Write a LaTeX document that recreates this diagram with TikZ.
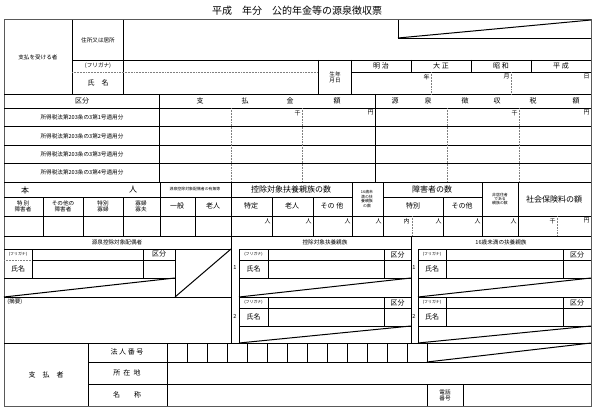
\documentclass[tikz,border=0pt]{standalone}
\usepackage{fontspec}
\setmainfont{Noto Sans CJK JP}
\begin{document}
\begin{tikzpicture}[x=1pt, y=-1pt, line width=.55pt,
  lbl/.style={inner sep=0pt, font=\fontsize{7}{7.5}\selectfont},
  big/.style={inner sep=0pt, font=\fontsize{8}{8.5}\selectfont},
  sml/.style={inner sep=0pt, align=center, font=\fontsize{5.6}{6}\selectfont},
  tiny/.style={inner sep=0pt, align=center, font=\fontsize{3.9}{4.4}\selectfont},
  unit/.style={inner sep=0pt, anchor=north east, font=\fontsize{6}{6.5}\selectfont},
  dot/.style={densely dotted, gray},
  heavy/.style={line width=1pt}]
\useasboundingbox (0,0) rectangle (600,412);
\node[inner sep=0pt, font=\fontsize{10}{11}\selectfont] (title) at (297,11) {平成\quad 年分\quad 公的年金等の源泉徴収票};
\draw[heavy, gray!70!black] (4,20) rectangle (591,406);
\draw (398,20) -- (398,38) -- (591,38);
\draw[heavy] (398,38) -- (591,20);
% recipient
\draw (72,20) -- (72,94); \draw (123,20) -- (123,94);
\draw (72,60) -- (591,60); \draw[dot] (72,72) -- (318,72); \draw (351,72) -- (591,72);
\draw (4,94) -- (591,94);
\draw (318,60) -- (318,94); \draw (351,60) -- (351,94);
\foreach \x in {411,471,531} \draw (\x,60) -- (\x,72);
\foreach \x in {431,511} \draw[dot] (\x,72) -- (\x,94);
\node[sml] (recv) at (38,57) {支払を受ける者};
\node[sml] (addr) at (98,40) {住所又は居所};
\node[sml] (kana) at (98,66) {(フリガナ)};
\node[lbl] (name) at (98,83) {氏\quad 名};
\node[sml] (birth) at (335,77) {生年\\月日};
\foreach \era/\x in {明\ 治/381, 大\ 正/441, 昭\ 和/501, 平\ 成/561}
  \node[lbl] (era\x) at (\x,66) {\era};
\foreach \u/\x in {年/430, 月/510, 日/590} \node[unit] (bd\x) at (\x,74) {\u};
% amounts
\foreach \y in {108,126,145,163,182} \draw (4,\y) -- (591,\y);
\draw (159,94) -- (159,182); \draw (375,94) -- (375,182);
\foreach \x in {231,302,447,519} \draw[dot] (\x,108) -- (\x,182);
\node[lbl] (kubun) at (82,101) {区分};
\foreach \c/\x in {支/200, 払/245, 金/290, 額/337, 源/395, 泉/428, 徴/465, 収/497, 税/533, 額/576}
  \node[lbl] (hd\x) at (\x,101) {\c};
\foreach \n/\y in {1/117, 2/136, 3/154, 4/172}
  \node[sml] (law\n) at (82,\y) {所得税法第203条の3第\n 号適用分};
\foreach \u/\x in {千/301, 円/374, 千/518, 円/590} \node[unit] (am\x) at (\x,110) {\u};
% family counts
\draw (4,197) -- (352,197); \draw (383,197) -- (482,197);
\draw (4,216) -- (591,216); \draw (4,236) -- (591,236);
\foreach \x in {160,231,352,383,482,518} \draw (\x,182) -- (\x,236);
\foreach \x in {43,83,123,195,272,313,443} \draw (\x,197) -- (\x,236);
\foreach \x in {412,557} \draw[dot] (\x,216) -- (\x,236);
\node[big] (self1) at (25,190) {本};
\node[big] (self2) at (133,190) {人};
\node[tiny] (spouseq) at (195,189) {源泉控除対象配偶者の有無等};
\foreach \t/\x in {特\ 別\\障害者/23, その他の\\障害者/63, 特別\\寡婦/103, 寡婦\\寡夫/141}
  \node[sml] (self\x) at (\x,206) {\t};
\foreach \t/\x in {一般/177, 老人/213, 特定/251, 老人/292, その\ 他/332, 特別/413, その他/462}
  \node[lbl] (sub\x) at (\x,206) {\t};
\node[big] (depnum) at (291,189) {控除対象扶養親族の数};
\node[tiny] (u16) at (367,199) {16歳未\\満の扶\\養親族\\の数};
\node[big] (disnum) at (432,189) {障害者の数};
\node[tiny] (nonres) at (500,199) {非居住者\\である\\親族の数};
\node[big] (social) at (554,199) {社会保険料の額};
\foreach \x in {272,313,352,383,443,482,518} \node[unit] (pp\x) at (\x-1,218) {人};
\node[unit] (uchi) at (410,218) {内};
\node[unit] (sc1) at (556,218) {千};
\node[unit] (sc2) at (590,218) {円};
% spouse and dependants
\draw (4,249) -- (231,249); \draw (239,249) -- (411,249); \draw (418,249) -- (591,249);
\draw (231,236) -- (231,343); \draw (239,249) -- (239,343);
\draw (411,236) -- (411,343); \draw (418,249) -- (418,343);
\node[sml] (hsp) at (117,242) {源泉控除対象配偶者};
\node[sml] (hdep) at (325,242) {控除対象扶養親族};
\node[sml] (hu16) at (501,242) {16歳未満の扶養親族};
\draw[dot] (4,260) -- (32,260); \draw (32,260) -- (175,260);
\draw (4,278) -- (175,278); \draw (32,249) -- (32,278); \draw (143,249) -- (143,278);
\draw (175,249) -- (175,297); \draw (4,297) -- (231,297);
\draw[heavy] (4,297) -- (175,278); \draw[heavy] (175,297) -- (231,249);
\node[tiny] (spkana) at (18,254) {(フリガナ)};
\node[lbl] (spname) at (18,269) {氏名};
\node[lbl] (spkubun) at (159,254) {区分};
\node[sml, anchor=north west] (memo) at (7,299) {(摘要)};
\foreach \xa/\xb/\xk/\xr in {239/268/384/411, 418/446/563/591}
  \foreach \ya/\yb/\yc/\yd/\n in {249/260/278/297/1, 297/308/326/343/2} {
    \draw (\xa,\ya) -- (\xr,\ya); \draw (\xa,\yb) -- (\xr,\yb); \draw (\xa,\yc) -- (\xr,\yc);
    \draw (\xb,\ya) -- (\xb,\yc); \draw (\xk,\ya) -- (\xk,\yc);
    \draw[heavy] (\xa,\yd) -- (\xr,\yc);
    \node[sml] (no\xa-\n) at (\xa-4,\yb+8) {\n};
    \node[tiny] (dk\xa-\n) at ({(\xa+\xb)/2},{(\ya+\yb)/2}) {(フリガナ)};
    \node[lbl] (dn\xa-\n) at ({(\xa+\xb)/2},{(\yb+\yc)/2}) {氏名};
    \node[lbl] (dq\xa-\n) at ({(\xk+\xr)/2},{(\ya+\yb)/2}) {区分};
  }
% payer
\draw (4,343) -- (591,343);
\draw (88,343) -- (88,406); \draw (167,343) -- (167,406);
\draw (88,362) -- (591,362); \draw (88,384) -- (591,384);
\foreach \x in {187,207,...,427} \draw (\x,343) -- (\x,362);
\draw[heavy] (427,362) -- (591,343);
\draw (427,384) -- (427,406); \draw (463,384) -- (463,406);
\node[lbl] (payer) at (46,375) {支\quad 払\quad 者};
\node[lbl] (corpno) at (127,352) {法\ 人\ 番\ 号};
\node[lbl] (loc) at (127,373) {所\ \ 在\ \ 地};
\node[lbl] (pname) at (127,395) {名\qquad 称};
\node[sml] (tel) at (445,395) {電話\\番号};
\end{tikzpicture}
\end{document}
